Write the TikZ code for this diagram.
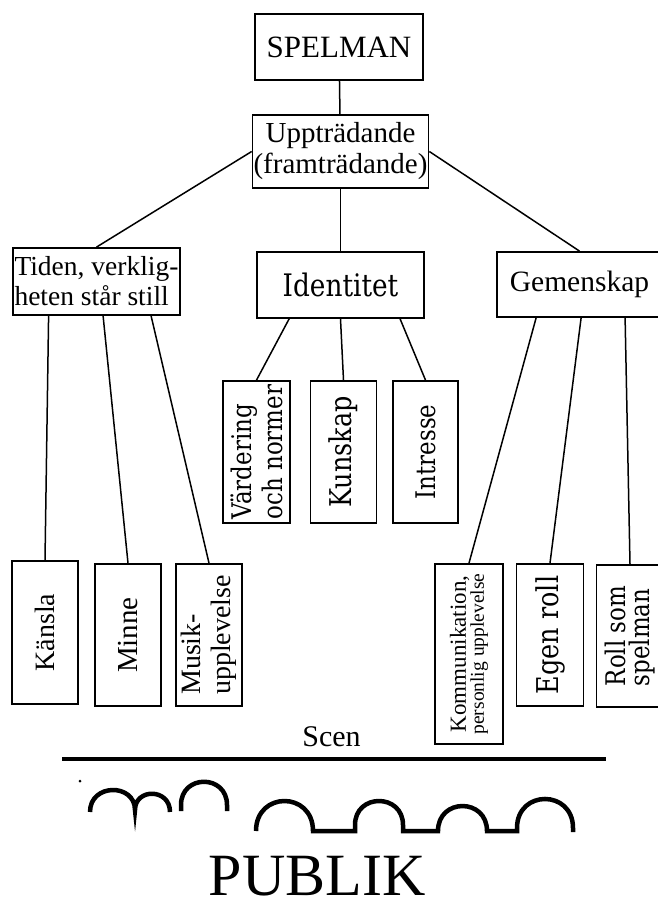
\documentclass[tikz,border=0pt]{standalone}
\usepackage{fontspec}
\setmainfont{Liberation Serif}
\newfontfamily\bookfont[FakeStretch=0.85]{DejaVu Serif}
\usetikzlibrary{positioning}

\begin{document}
\begin{tikzpicture}[x=1pt,y=-1pt,
  box/.style={draw,line width=1.8pt,inner sep=1pt},
  vbox/.style={box,rotate=90,align=left,minimum width=142pt,minimum height=66pt},
  every edge/.style={draw,line width=1.5pt},
  crowd/.style={line width=4.5pt}]

\useasboundingbox (0,0) rectangle (658,910);

\node (1) [box,minimum width=168pt,minimum height=66pt,font=\fontsize{31}{33}\selectfont] at (339,47) {SPELMAN};
\node (2) [box,align=center,minimum width=171pt,minimum height=73pt,font=\fontsize{29}{31}\selectfont] at (340.5,151.5) {Uppträdande\\(framträdande)};

\node (3) [box,align=left,minimum width=167pt,minimum height=67pt,font=\fontsize{27.5}{30}\selectfont] at (96.5,281.5) {Tiden, verklig-\\heten står still};
\node (4) [box,minimum width=167pt,minimum height=66pt,font=\bookfont\fontsize{31}{33}\selectfont] at (340.5,285) {Identitet};
\node (5) [box,minimum width=165pt,minimum height=65pt,font=\fontsize{29.5}{31}\selectfont] at (579.5,284.5) {Gemenskap};

\node (6) [vbox,minimum height=67pt,font=\bookfont\fontsize{27}{31}\selectfont] at (256.5,452) {Värdering\\och normer};
\node (7) [vbox,font=\bookfont\fontsize{30}{31}\selectfont] at (343.5,452) {Kunskap};
\node (8) [vbox,minimum height=65pt,font=\bookfont\fontsize{27}{31}\selectfont] at (425.5,452) {Intresse};

\node (9) [vbox,minimum width=143pt,font=\fontsize{28}{30}\selectfont] at (45,632.5) {Känsla};
\node (10) [vbox,font=\fontsize{29}{30}\selectfont] at (128,635) {Minne};
\node (11) [vbox,font=\fontsize{28}{30}\selectfont] at (209,635) {Musik-\\upplevelse};

\node (12) [vbox,minimum width=180pt,minimum height=68pt,align=center] at (469,654) {{\fontsize{23}{22}\selectfont Kommunikation,}\\{\fontsize{19.5}{20}\selectfont personlig upplevelse}};
\node (13) [vbox,minimum height=67pt,font=\bookfont\fontsize{30}{31}\selectfont] at (550,635) {Egen roll};
\node (14) [vbox,minimum height=67pt,font=\bookfont\fontsize{27}{24}\selectfont] at (630,636) {Roll som\\spelman};

\path
(1) edge (2)
(2.west) edge (3.north)
(2) edge (4)
(2.east) edge (5.north)
([xshift=36.5pt]3.south west) edge (9.east)
([xshift=91pt]3.south west) edge (10.east)
([xshift=139pt]3.south west) edge (11.east)
([xshift=33pt]4.south west) edge (6.east)
(4.south) edge (7.east)
([xshift=144pt]4.south west) edge (8.east)
([xshift=40pt]5.south west) edge (12.east)
([xshift=85pt]5.south west) edge (13.east)
([xshift=129pt]5.south west) edge (14.east);

% scen och publik
\node (15) [font=\fontsize{30}{32}\selectfont] at (331.5,737) {Scen};
\draw[line width=3.5pt] (62,759) -- (606,759);
\fill (80,781) circle[radius=1.5pt];

\draw[crowd] (90,812) .. controls (90,783) and (135,783) .. (135,810)
  .. controls (135,788) and (170,788) .. (170,812);
\draw[crowd] (181,811) -- (181,805) .. controls (181,774) and (227,774) .. (227,805) -- (227,811);

\draw[crowd] (256,831) .. controls (256,791) and (313,791) .. (313,831)
  -- (355,831) -- (355,825) .. controls (355,793) and (403,793) .. (403,825)
  -- (403,831) -- (438,831) .. controls (438,797.7) and (487,797.7) .. (487,831)
  -- (517,831) -- (517,828) .. controls (517,789.3) and (573,789.3) .. (573,828)
  -- (573,832);

\node (16) [inner sep=0pt,font=\fontsize{60}{62}\selectfont] at (317,876) {PUBLIK};

\end{tikzpicture}
\end{document}
